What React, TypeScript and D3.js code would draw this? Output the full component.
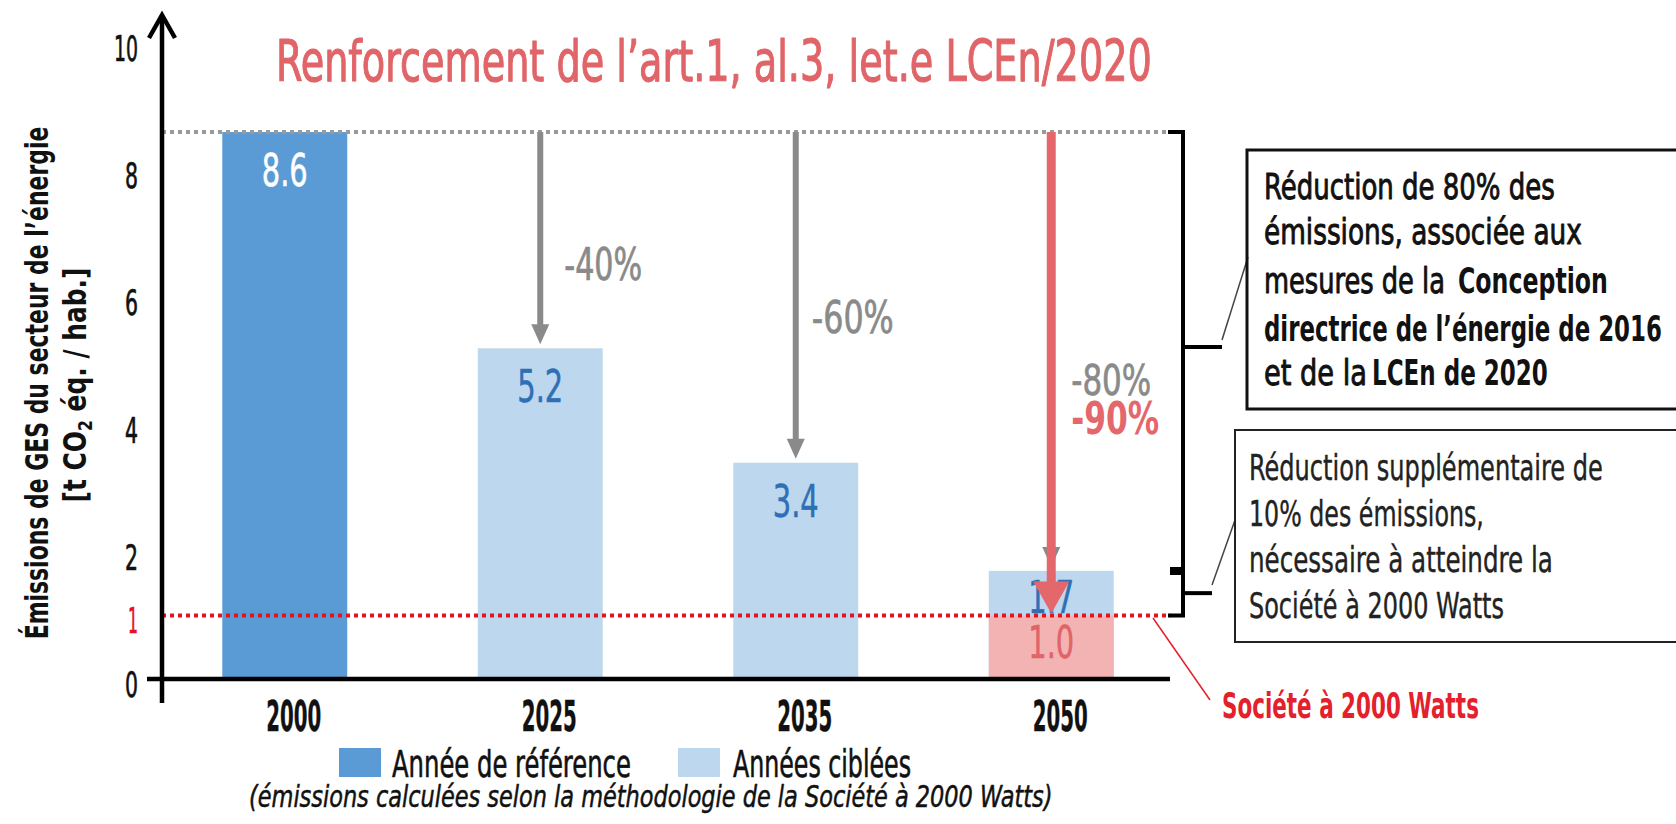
import React, { useLayoutEffect, useRef, useState } from "react";
import * as d3 from "d3";

const categories = ["2000", "2025", "2035", "2050"];
const values = [8.6, 5.2, 3.4, 1.7];
const valueLabels = ["8.6", "5.2", "3.4", "1.7"];
const barKinds = ["ref", "target", "target", "target"];
const societyTarget = 1.0;
const societyLabel = "1.0";
const reductionLabels = ["", "-40%", "-60%", "-80%"];
const extraReduction = "-90%";
const yTicks = [0, 2, 4, 6, 8, 10];
const yTickExtra = 1;

const title = "Renforcement de l\u2019art.1, al.3, let.e LCEn/2020";
const legendItems = ["Année de référence", "Années ciblées"];
const footnote = "(émissions calculées selon la méthodologie de la Société à 2000 Watts)";
const societyName = "Société à 2000 Watts";

const W = 1676;
const H = 824;
const FONT = "'DejaVu Sans Condensed', 'DejaVu Sans', sans-serif";

const C = {
  ref: "#5b9bd5",
  target: "#bdd7ee",
  pink: "#f3b3b3",
  title: "#e06468",
  redArrow: "#e4676c",
  redLine: "#e3141f",
  gray: "#8a8a8a",
  grayDot: "#9a9a9a",
  blueText: "#2f6fb5",
  society: "#e3202b",
};

type TProps = {
  x: number;
  y: number;
  w?: number;
  size: number;
  anchor?: "start" | "middle" | "end";
  weight?: number | string;
  fill?: string;
  italic?: boolean;
  thick?: number;
  children: React.ReactNode;
};

// Text fitted horizontally to a target width (condensed look), height set by font size.
function T({ x, y, w, size, anchor = "start", weight = 400, fill = "#111", italic, thick, children }: TProps) {
  const ref = useRef<SVGTextElement>(null);
  const [sx, setSx] = useState(1);
  useLayoutEffect(() => {
    if (w && ref.current) {
      const n = ref.current.getComputedTextLength();
      if (n > 0) setSx(w / n);
    }
  }, [w, size]);
  return (
    <text
      ref={ref}
      transform={`translate(${x},${y}) scale(${sx},1)`}
      fontFamily={FONT}
      fontStretch="condensed"
      fontSize={size}
      fontWeight={weight}
      fontStyle={italic ? "italic" : "normal"}
      fill={fill}
      stroke={thick ? fill : undefined}
      strokeWidth={thick}
      strokeLinejoin="round"
      textAnchor={anchor}
    >
      {children}
    </text>
  );
}

export default function App() {
  const x = d3
    .scaleBand<string>()
    .domain(categories)
    .range([157, 1179])
    .paddingInner(0.511)
    .paddingOuter(0.2555);
  const y = d3.scaleLinear().domain([0, 10]).range([679, 43]);

  const bw = x.bandwidth();
  const cx = (c: string) => (x(c) as number) + bw / 2;
  const refTop = y(values[0]);
  const lastCat = categories[categories.length - 1];
  const lastVal = values[values.length - 1];
  const yS = y(societyTarget);
  const y0 = y(0);

  const arrowHead = (xc: number, tip: number, hw: number, hh: number) =>
    `M${xc - hw},${tip - hh} L${xc + hw},${tip - hh} L${xc},${tip} Z`;

  const brX = 1183;
  const midSmall = (y(lastVal) + yS) / 2;

  return (
    <svg
      width={W}
      height={H}
      viewBox={`0 0 ${W} ${H}`}
      style={{ position: "absolute", left: 0, top: 0, background: "#fff" }}
    >
      <rect x={0} y={0} width={W} height={H} fill="#fff" />

      {/* Title */}
      <T x={276} y={81} w={876} size={57} fill={C.title} thick={1.1}>
        {title}
      </T>

      {/* Y axis label */}
      <g transform={`translate(48, 383) rotate(-90)`}>
        <T x={0} y={0} w={513} size={32} anchor="middle" weight={700}>
          {"Émissions de GES du secteur de l\u2019énergie"}
        </T>
      </g>
      <g transform={`translate(86, 385) rotate(-90)`}>
        <T x={0} y={0} w={235} size={32} anchor="middle" weight={700}>
          [t CO<tspan fontSize={20} dy={6}>2</tspan>
          <tspan dy={-6}> éq. / hab.]</tspan>
        </T>
      </g>

      {/* Bars */}
      {categories.map((c, i) => (
        <rect
          key={c}
          x={x(c)}
          y={y(values[i])}
          width={bw}
          height={y0 - y(values[i])}
          fill={barKinds[i] === "ref" ? C.ref : C.target}
        />
      ))}

      {/* Value labels */}
      {categories.map((c, i) => (
        <T
          key={c}
          x={cx(c)}
          y={y(values[i]) + (i === categories.length - 1 ? 42 : 54)}
          w={46}
          size={44}
          anchor="middle"
          fill={barKinds[i] === "ref" ? "#fff" : C.blueText}
          thick={0.5}
        >
          {valueLabels[i]}
        </T>
      ))}

      {/* Société à 2000 Watts portion */}
      <rect x={x(lastCat)} y={yS} width={bw} height={y0 - yS} fill={C.pink} />
      <T x={cx(lastCat)} y={yS + 43} w={46} size={44} anchor="middle" fill={C.title} thick={0.5}>
        {societyLabel}
      </T>

      {/* Dotted reference lines */}
      <line
        x1={162}
        x2={brX - 12}
        y1={refTop}
        y2={refTop}
        stroke={C.grayDot}
        strokeWidth={4}
        strokeDasharray="4 4"
      />
      <line
        x1={162}
        x2={brX - 12}
        y1={yS}
        y2={yS}
        stroke={C.redLine}
        strokeWidth={4}
        strokeDasharray="4 4"
      />

      {/* Gray arrows */}
      {categories.slice(1).map((c, k) => {
        const i = k + 1;
        const tip = y(values[i]) - 4;
        return (
          <g key={c}>
            <line x1={cx(c)} x2={cx(c)} y1={refTop} y2={tip - 16} stroke={C.gray} strokeWidth={6} />
            <path d={arrowHead(cx(c), tip, 9, 20)} fill={C.gray} />
          </g>
        );
      })}

      {/* Red arrow */}
      <line
        x1={cx(lastCat)}
        x2={cx(lastCat)}
        y1={refTop}
        y2={yS - 28}
        stroke={C.redArrow}
        strokeWidth={9}
      />
      <path d={arrowHead(cx(lastCat), yS - 2, 18, 32)} fill={C.redArrow} />

      {/* Reduction labels */}
      <T x={cx(categories[1]) + 24} y={280} w={78} size={44} fill={C.gray} thick={0.7}>
        {reductionLabels[1]}
      </T>
      <T x={cx(categories[2]) + 16} y={333} w={82} size={44} fill={C.gray} thick={0.7}>
        {reductionLabels[2]}
      </T>
      <T x={cx(lastCat) + 20} y={395} w={80} size={43} fill={C.gray} thick={0.7}>
        {reductionLabels[3]}
      </T>
      <T x={cx(lastCat) + 20} y={434} w={88} size={44} weight={700} fill={C.redArrow}>
        {extraReduction}
      </T>

      {/* Axes */}
      <line x1={147} x2={1170} y1={y0} y2={y0} stroke="#000" strokeWidth={4.5} />
      <line x1={162} x2={162} y1={703} y2={16} stroke="#000" strokeWidth={4.5} />
      <path d="M149,38 L162,15 L175,38" fill="none" stroke="#000" strokeWidth={4.5} />

      {/* Y tick labels */}
      {yTicks.map((t) => (
        <T key={t} x={138} y={y(t) + 18} w={t >= 10 ? 24 : 13} size={36} anchor="end" thick={0.7}>
          {t}
        </T>
      ))}
      <T x={138} y={y(yTickExtra) + 18} w={10} size={36} anchor="end" fill={C.redLine} thick={0.7}>
        {yTickExtra}
      </T>

      {/* Category labels */}
      {categories.map((c) => (
        <T key={c} x={cx(c) + 9} y={731} w={55} size={43} anchor="middle" weight={700} thick={0.4}>
          {c}
        </T>
      ))}

      {/* Brackets */}
      <path
        d={`M${brX - 15},${refTop} H${brX} V${y(lastVal) - 2} H${brX - 13}`}
        fill="none"
        stroke="#000"
        strokeWidth={4}
      />
      <line x1={brX} x2={1222} y1={347} y2={347} stroke="#000" strokeWidth={4} />
      <path
        d={`M${brX - 13},${y(lastVal) + 2} H${brX} V${yS} H${brX - 15}`}
        fill="none"
        stroke="#000"
        strokeWidth={4}
      />
      <line x1={brX} x2={1212} y1={midSmall} y2={midSmall} stroke="#000" strokeWidth={4} />

      {/* Callout lines */}
      <line x1={1222} y1={340} x2={1248} y2={257} stroke="#444" strokeWidth={1.5} />
      <line x1={1212} y1={585} x2={1235} y2={520} stroke="#444" strokeWidth={1.5} />
      <line x1={1153} y1={618} x2={1210} y2={700} stroke={C.society} strokeWidth={1.5} />

      {/* Box 1 */}
      <rect x={1247} y={150} width={460} height={259} fill="none" stroke="#111" strokeWidth={3} />
      <T x={1264} y={199} w={291} size={36} thick={0.9}>Réduction de 80% des</T>
      <T x={1264} y={244} w={318} size={36} thick={0.9}>émissions, associée aux</T>
      <T x={1264} y={293} w={181} size={36} thick={0.9}>mesures de la</T>
      <T x={1458} y={293} w={150} size={36} weight={700}>Conception</T>
      <T x={1264} y={341} w={398} size={36} weight={700}>{"directrice de l\u2019énergie de 2016"}</T>
      <T x={1264} y={385} w={103} size={36} thick={0.9}>et de la</T>
      <T x={1372} y={385} w={176} size={36} weight={700}>LCEn de 2020</T>

      {/* Box 2 */}
      <rect x={1235} y={430} width={470} height={212} fill="none" stroke="#222" strokeWidth={2} />
      <T x={1249} y={480} w={354} size={36} fill="#222" thick={0.4}>Réduction supplémentaire de</T>
      <T x={1249} y={526} w={235} size={36} fill="#222" thick={0.4}>10% des émissions,</T>
      <T x={1249} y={572} w={304} size={36} fill="#222" thick={0.4}>nécessaire à atteindre la</T>
      <T x={1249} y={618} w={255} size={36} fill="#222" thick={0.4}>{societyName}</T>

      {/* Société label */}
      <T x={1222} y={718} w={257} size={36} weight={700} fill={C.society}>{societyName}</T>

      {/* Legend */}
      <rect x={339} y={748} width={42} height={29} fill={C.ref} />
      <T x={392} y={777} w={239} size={37} thick={0.6}>{legendItems[0]}</T>
      <rect x={678} y={748} width={42} height={29} fill={C.target} />
      <T x={733} y={777} w={178} size={37} thick={0.6}>{legendItems[1]}</T>

      {/* Footnote */}
      <T x={249} y={807} w={804} size={31} italic thick={0.5}>{footnote}</T>
    </svg>
  );
}
